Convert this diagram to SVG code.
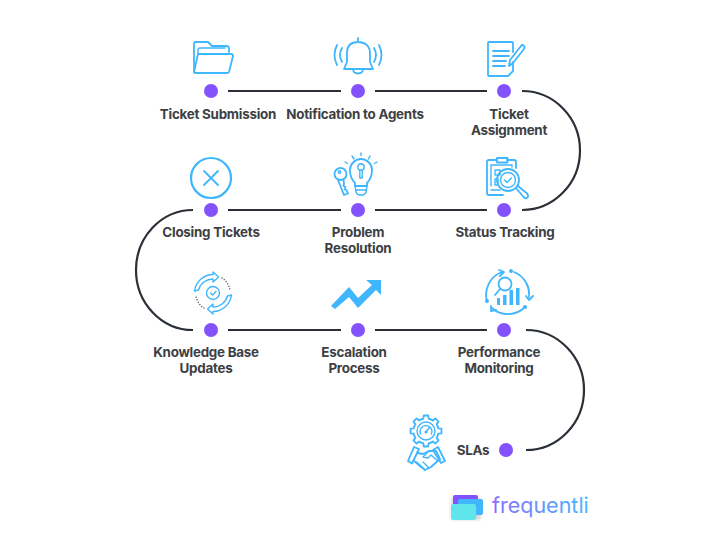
<svg xmlns="http://www.w3.org/2000/svg" width="720" height="540" viewBox="0 0 720 540">
<defs>
<linearGradient id="fq" x1="0" y1="0" x2="1" y2="0"><stop offset="0" stop-color="#8a6cff"/><stop offset="1" stop-color="#45b8ff"/></linearGradient>
<filter id="sh" x="-20%" y="-20%" width="140%" height="140%"><feGaussianBlur stdDeviation="1.5"/></filter>
<path id="tooth" class="i" d="M-4.800 -11.600L-2.600 -12.300L-2.300 -15.500H2.300L2.600 -12.300L4.800 -11.600"/>
</defs>
<style>
.bg{fill:#fff}
.c{fill:none;stroke:#2b3038;stroke-width:2.200;stroke-linecap:butt}
.d{fill:#8352fd}
.t{font-family:Inter,"Liberation Sans",sans-serif;font-weight:700;font-size:13.4px;fill:#3d3f44;text-anchor:middle;letter-spacing:-.25px}
.i{fill:none;stroke:#3fb6fd;stroke-width:1.800;stroke-linecap:round;stroke-linejoin:round}
.i2{fill:none;stroke:#3fb6fd;stroke-width:1.400;stroke-linecap:round;stroke-linejoin:round}
.f{fill:#3fb6fd}
</style>
<rect class="bg" width="720" height="540"/>
<g id="connectors">
<path class="c" d="M228 91H341M375 91H487M228 210H341M375 210H487M228 330H341M375 330H487"/>
<path class="c" stroke-width="2" d="M522 91A58 59.500 0 0 1 522 210M193 210A57 60 0 0 0 193 330M526 330A58 60 0 0 1 526 450"/>
</g>
<g id="n1">
<path class="i" d="M194 72V44Q194 42 196 42H208L212 46H226Q229 46 229 48V52"/>
<path class="i2" d="M198 53V50Q198 48 200 48H225"/>
<path class="i" d="M198 54H231Q233 54 233 56L229 72Q229 73 226 73H196Q194 73 194 72Z"/>
<circle class="d" cx="211" cy="91" r="7"/>
<text class="t" x="218" y="119">Ticket Submission</text>
</g>
<g id="n2">
<path class="i" d="M358 38V42M347 62V53C347 46 351 42 358 42C365 42 370 46 370 53V62L373 69H344ZM353 69Q353 73.500 358 73.500Q363 73.500 363 69"/>
<path class="i" d="M342 48Q338 55 342 62M337 45Q332 55 337 65M374 48Q378 55 374 62M379 45Q384 55 379 65"/>
<circle class="d" cx="358" cy="91" r="7"/>
<text class="t" x="355" y="119">Notification to Agents</text>
</g>
<g id="n3">
<path class="i" d="M513 52V43Q513 42 512 42H489Q488 42 488 43V75Q488 76 489 76H508L513 71V62"/>
<path class="i" d="M493 51H509M493 56H509M493 61H506M493 66H505"/>
<path class="i" d="M510 60L521 46Q522 44 524 46Q525.500 47 524 49L513 63L509 66Z"/>
<circle class="d" cx="504" cy="91" r="7"/>
<text class="t" x="509" y="119">Ticket</text>
<text class="t" x="509" y="135">Assignment</text>
</g>
<g id="n4">
<path class="i" d="M497 160H489Q487 160 487 162V193Q487 195 489 195H503M507 160H514Q516 160 516 162V168"/>
<rect class="i" x="497" y="158" width="10.500" height="4.500"/>
<path class="i2" d="M491 186V165H512V167M491 190H500M495 170H500V175H495ZM495 179H498V185H495Z"/>
<circle class="i" cx="508" cy="180" r="11"/>
<circle class="i2" cx="508" cy="180" r="7.500"/>
<path class="i2" d="M504.500 180L507 182.500L511.500 178"/>
<path class="i" d="M516 188L523.500 197Q526 199.500 527.500 197.500Q529 195.500 526.500 193L518 186"/>
<circle class="d" cx="504" cy="210" r="7"/>
<text class="t" x="505" y="237">Status Tracking</text>
</g>
<g id="n5">
<path class="i" d="M355 183C352 180 350 175 350 170C350 164 355 159 361 159C367 159 372 164 372 170C372 175 370 180 367 183V186H355Z"/>
<path class="i2" d="M355 186H367L366 192Q365 195 362 195H360Q357 195 356 192Z"/>
<path class="i2" d="M356 190H366"/>
<circle class="i2" cx="361" cy="167" r="3.200"/>
<path class="i2" d="M359.800 170V178H362.200V170"/>
<circle class="i" cx="340.500" cy="174" r="6"/>
<circle class="i2" cx="339.500" cy="172" r="1.300"/>
<path class="i" d="M338 180L344 195L348 193.500L346.500 190L344.500 189.500L345.500 187L343.500 186L344 183.500L343.500 180"/>
<path class="i2" d="M352 156L354 159M361 153V155.500M370 156L368.500 159M377 162L374.500 163.500M345 162L347.500 163.500"/>
<circle class="d" cx="358" cy="210" r="7"/>
<text class="t" x="358" y="237">Problem</text>
<text class="t" x="358" y="253">Resolution</text>
</g>
<g id="n6">
<circle cx="211" cy="178" r="20" fill="none" stroke="#3fb6fd" stroke-width="2.200"/>
<path class="i" d="M204 171L218 185M218 171L204 185"/>
<circle class="d" cx="211" cy="210" r="7"/>
<text class="t" x="211" y="237">Closing Tickets</text>
</g>
<g id="n7">
<path class="i2" d="M194.500 291A19 19 0 0 1 213 274.500V272L218.500 277L213 282V279A15 15 0 0 0 198.500 290Z"/>
<path class="i2" d="M231.500 295A19 19 0 0 1 213 311.500V314L207.500 309L213 304V307A15 15 0 0 0 227.500 296Z"/>
<path fill="none" stroke="#444" stroke-width="1.300" stroke-linecap="round" stroke-dasharray="0.100 2.600" d="M222 278A17 17 0 0 1 230 290M204 308A17 17 0 0 1 196 296"/>
<circle class="i2" cx="213" cy="293" r="6.500"/>
<path class="i2" d="M210.500 293L212.500 295L216 291.500"/>
<circle class="d" cx="211" cy="330" r="7"/>
<text class="t" x="206" y="357">Knowledge Base</text>
<text class="t" x="206" y="373">Updates</text>
</g>
<g id="n8">
<path class="f" d="M331 306L349 287L358 298L372 285L366 280H381V295L376 290L358 308L349 297L335 309Z"/>
<circle class="d" cx="358" cy="330" r="7"/>
<text class="t" x="354" y="357">Escalation</text>
<text class="t" x="354" y="373">Process</text>
</g>
<g id="n9">
<path class="i" d="M487 301A24 24 0 0 1 502 272M514 272A24 24 0 0 1 529 297M525 307A24 24 0 0 1 492 308"/>
<path class="i" d="M499 270L504 272L500 276M526 296L529 300L533 296M491 306L491 311L496 310"/>
<circle class="f" cx="511" cy="271" r="2"/><circle class="f" cx="487" cy="301" r="2"/><circle class="f" cx="525" cy="307" r="2"/>
<circle class="i" cx="505" cy="284" r="6.500"/>
<path d="M500 289L495 295" class="i" stroke-width="2.500"/>
<path class="f" d="M497 298h3v7h-3zM503 295h3.500v10h-3.500zM509.500 290h3.500v15h-3.500zM516 288h3.500v17h-3.500z"/>
<circle class="d" cx="504" cy="330" r="7"/>
<text class="t" x="499" y="357">Performance</text>
<text class="t" x="499" y="373">Monitoring</text>
</g>
<g id="n10">
<g transform="translate(426 431)">
<use href="#tooth"/><use href="#tooth" transform="rotate(45)"/><use href="#tooth" transform="rotate(90)"/><use href="#tooth" transform="rotate(135)"/><use href="#tooth" transform="rotate(180)"/><use href="#tooth" transform="rotate(225)"/><use href="#tooth" transform="rotate(270)"/><use href="#tooth" transform="rotate(315)"/>
<circle class="i2" r="9"/>
<path class="i2" d="M-5.500 3A6 6 0 1 1 5.500 3M0 1L3 -3"/>
<circle class="f" cy="1" r="1.500"/>
</g>
<path class="i" d="M414 447L408 461L412 463.500L419 449ZM438 447L445 461L441 463L433 450Z"/>
<path class="i" d="M417 453L423 454L429 451L436 451L440 459L431 467L425 470L414 461"/>
<path class="i2" d="M429 451L423 457L428 458L431 455L438 461M420 465L425 470M423 462L429 468M417 462L421 467"/>
<circle class="d" cx="506" cy="450" r="7"/>
<text class="t" x="473" y="455">SLAs</text>
</g>
<g id="logo">
<rect x="451" y="497" width="30" height="23" rx="2" fill="#000" opacity=".15" filter="url(#sh)"/>
<rect x="453" y="495" width="25" height="16" rx="2" fill="#8352fd"/>
<rect x="458" y="499" width="25" height="16" rx="2" fill="#3fb6fd"/>
<rect x="451" y="504" width="25" height="16" rx="2" fill="#5fe6ea"/>
<text x="492" y="513" font-family="Inter,'Liberation Sans',sans-serif" font-size="21.500" fill="url(#fq)">frequentli</text>
</g>
</svg>
